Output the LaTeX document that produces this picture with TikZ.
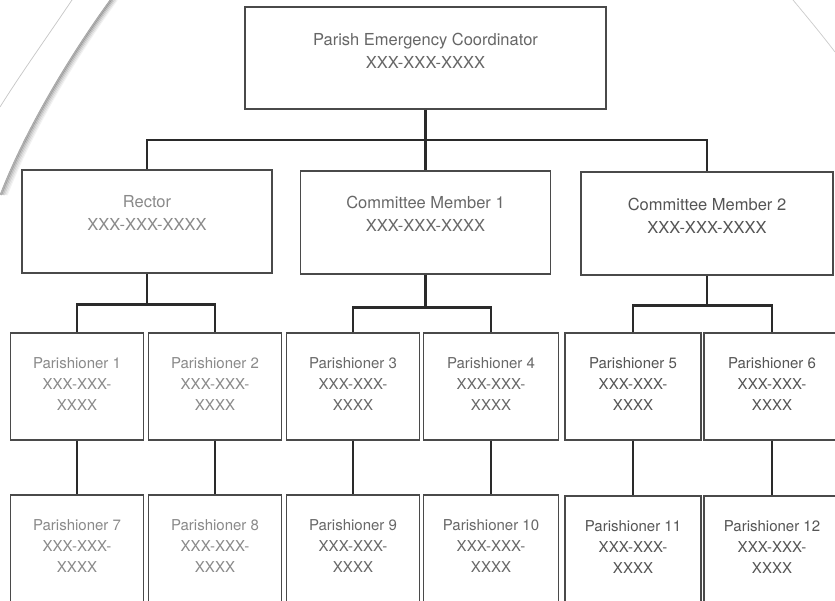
\documentclass[tikz,border=0pt]{standalone}
\usepackage{fontspec}
\setmainfont{TeX Gyre Heros}
\usetikzlibrary{calc}
\definecolor{boxc}{HTML}{4A4A4A}
\definecolor{linec}{HTML}{2A2A2A}
\definecolor{tlight}{HTML}{8A8A8A}
\definecolor{tmid}{HTML}{686868}
\definecolor{tdark}{HTML}{555555}
\definecolor{ttop}{HTML}{666666}
\begin{document}
\begin{tikzpicture}[x=1pt,y=-1pt,
  box/.style={draw=boxc,line width=1.4pt,fill=white,inner sep=0pt},
  big/.style={inner sep=0pt,align=center,anchor=north,font=\fontsize{16.5}{23}\selectfont},
  small/.style={inner sep=0pt,align=center,anchor=north,font=\fontsize{15}{21}\selectfont},
  conn/.style={draw=linec,line width=2.4pt},
  lvl3/.style={box,minimum width=133pt,minimum height=107pt},
  wide/.style={minimum width=136pt}]
\useasboundingbox (0,0) rectangle (835,601);
\clip (0,0) rectangle (835,601);
\fill[white] (0,0) rectangle (835,601);

% frame curves
\draw[gray!45,line width=0.7pt] (72,0) .. controls (45,40) and (20,75) .. (0,107);
\foreach \d/\o in {1/0.30,2.5/0.22,4/0.15,5.5/0.09,7/0.05}
  \draw[black,opacity=\o,line width=1.6pt,xshift=\d pt] (110,0) .. controls (70,55) and (25,130) .. (0,195);
\draw[gray!70,line width=0.7pt] (110,0) .. controls (70,55) and (25,130) .. (0,195);
\draw[gray!40,line width=0.7pt] (793,0) .. controls (808,18) and (822,35) .. (835,52);

% level 1
\node[box,minimum width=361pt,minimum height=102pt] (pec) at (425.5,58) {};
\node[big,text=ttop] (pect) at ($(pec.north)+(0,27)$) {Parish Emergency Coordinator\\XXX-XXX-XXXX};

% level 2
\node[box,minimum width=250pt,minimum height=103pt] (rector) at (147,221.5) {};
\node[box,minimum width=250pt,minimum height=103pt] (cm1) at (425.5,222.5) {};
\node[box,minimum width=252pt,minimum height=103pt] (cm2) at (707,223.5) {};
\node[big,text=tlight] (rectort) at ($(rector.north)+(0,26)$) {Rector\\XXX-XXX-XXXX};
\node[big,text=tmid] (cm1t) at ($(cm1.north)+(0,26)$) {Committee Member 1\\XXX-XXX-XXXX};
\node[big,text=tdark] (cm2t) at ($(cm2.north)+(0,27)$) {Committee Member 2\\XXX-XXX-XXXX};

% level 3
\node[lvl3] (p1) at (77,386.5) {};
\node[lvl3] (p2) at (215,386.5) {};
\node[lvl3] (p3) at (353,386.5) {};
\node[lvl3,minimum width=135pt] (p4) at (491,386.5) {};
\node[lvl3,wide] (p5) at (633,386.5) {};
\node[lvl3,wide] (p6) at (772,386.5) {};
% level 4
\node[lvl3] (p7) at (77,548.5) {};
\node[lvl3] (p8) at (215,548.5) {};
\node[lvl3] (p9) at (353,548.5) {};
\node[lvl3,minimum width=135pt] (p10) at (491,548.5) {};
\node[lvl3,wide] (p11) at (633,549.5) {};
\node[lvl3,wide] (p12) at (772,549.5) {};

\foreach \n/\c in {1/tlight,2/tlight,3/tmid,4/tmid,5/tdark,6/tdark,7/tlight,8/tlight,9/tmid,10/tmid,11/tdark,12/tdark}
  \node[small,text=\c] (p\n t) at ($(p\n.north)+(0,25)$) {Parishioner \n\\XXX-XXX-\\XXXX};

% connectors
\coordinate (b0) at (425.5,140);
\draw[conn] (pec.south) -- (cm1.north);
\draw[conn] (rector.north) |- (b0) -| (cm2.north);

\coordinate (rb) at ($(rector.south)+(0,31)$);
\draw[conn] (rector.south) -- (rb);
\draw[conn] (p1.north) |- (rb) -| (p2.north);

\coordinate (cb1) at ($(cm1.south)+(0,33)$);
\draw[conn] (cm1.south) -- (cb1);
\draw[conn] (p3.north) |- (cb1) -| (p4.north);

\coordinate (cb2) at ($(cm2.south)+(0,30)$);
\draw[conn] (cm2.south) -- (cb2);
\draw[conn] (p5.north) |- (cb2) -| (p6.north);

\draw[conn] (p1.south) -- (p7.north);
\draw[conn] (p2.south) -- (p8.north);
\draw[conn] (p3.south) -- (p9.north);
\draw[conn] (p4.south) -- (p10.north);
\draw[conn] (p5.south) -- (p11.north);
\draw[conn] (p6.south) -- (p12.north);
\end{tikzpicture}
\end{document}
